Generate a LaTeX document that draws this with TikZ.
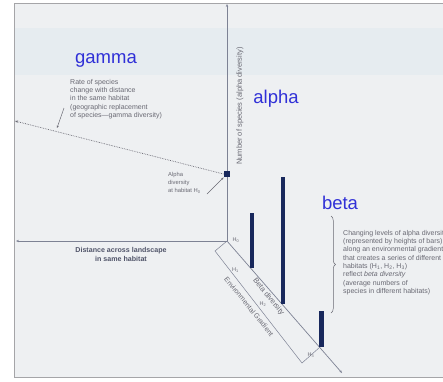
\documentclass[tikz,border=0pt]{standalone}
\usepackage{fontspec}
\setmainfont{Liberation Sans}
\usetikzlibrary{arrows.meta,decorations.pathreplacing}
\definecolor{greek}{RGB}{48,48,215}
\definecolor{axisc}{RGB}{125,130,148}
\definecolor{barc}{RGB}{24,40,92}
\definecolor{txtc}{RGB}{105,105,115}
\definecolor{darktxt}{RGB}{80,84,105}
\definecolor{bgc}{RGB}{238,240,242}
\definecolor{bandc}{RGB}{230,236,240}
\definecolor{framec}{RGB}{165,165,168}
\begin{document}
\begin{tikzpicture}[x=1pt,y=-1pt,
  greeklabel/.style={text=greek,font=\fontsize{18.5}{20}\selectfont,inner sep=0},
  note/.style={text=txtc,font=\fontsize{7}{8.35}\selectfont,align=left,inner sep=0},
  smallnote/.style={text=txtc,font=\fontsize{5.8}{8}\selectfont,align=left,inner sep=0},
  hlab/.style={text=txtc,font=\fontsize{5.5}{6}\selectfont,inner sep=0},
  axisline/.style={draw=axisc,line width=0.7pt},
  tipend/.style={-{Stealth[length=3pt,width=2.4pt]}},
  barshape/.style={fill=barc,draw=none},
  sqshape/.style={fill=barc,draw=none,minimum size=6.5pt,inner sep=0}]
\useasboundingbox (0,0) rectangle (443,381);
% background
\fill[white] (0,0) rectangle (443,381);
\fill[bgc] (14,3) rectangle (450,377);
\fill[bandc] (14,28) rectangle (450,75);
\draw[framec,line width=0.8pt] (450,3) -- (14,3) -- (14,377) -- (450,377);
% coordinates
\coordinate (O) at (227,241);
\coordinate (vtop) at (227,4);
\coordinate (hleft) at (16,241);
\coordinate (dend) at (342,373);
\coordinate (gend) at (15,121);
\coordinate (b1) at (215,251);
\coordinate (b2) at (302,363);
\coordinate (b3) at (320,347);
% axes
\draw[axisline,tipend] (O) -- (vtop);
\draw[axisline,tipend] (O) -- (hleft);
\draw[axisline,tipend] (O) -- (dend);
\draw[axisline,line width=0.5pt] (O) -- (b1) -- (b2) -- (b3);
% alpha square and gamma line
\node[sqshape] (sq) at (227,174) {};
\draw[txtc,densely dotted,line width=0.7pt,tipend] (sq.west) -- (gend);
% bars
\fill[barshape] (249.5,213) rectangle (254,268);
\fill[barshape] (280.5,177) rectangle (285,304);
\fill[barshape] (319,311) rectangle (323.5,347);
% greek labels
\node[greeklabel] (gamma) at (106,60) {gamma};
\node[greeklabel] (alpha) at (276,99) {alpha};
\node[greeklabel] (beta) at (340,203) {beta};
% notes
\node[note,anchor=north west] (rate) at (70,78.8) {Rate of species\\change with distance\\in the same habitat\\(geographic replacement\\of species---gamma diversity)};
\coordinate (ratept) at (57,128);
\draw[txtc,line width=0.5pt,-{Stealth[length=2.5pt,width=2pt]}] (64,108) -- (ratept);
\node[smallnote,anchor=north west] (alphanote) at (168,172.5) {Alpha\\diversity\\at habitat H\textsubscript{0}};
\draw[txtc,line width=0.5pt,-{Stealth[length=2.5pt,width=2pt]}] (207,194) -- (sq.south west);
\node[text=txtc,font=\fontsize{7.5}{8}\selectfont,inner sep=0,rotate=90] (ylab) at (240,106) {Number of species (alpha diversity)};
\node[text=darktxt,font=\bfseries\fontsize{7.1}{9}\selectfont,align=center,inner sep=0,anchor=north] (xlab) at (121,247.3) {Distance across landscape\\in same habitat};
\node[note,anchor=north west] (betanote) at (343,229.8) {Changing levels of alpha diversity\\(represented by heights of bars)\\along an environmental gradient\\that creates a series of different\\habitats (H\textsubscript{1}, H\textsubscript{2}, H\textsubscript{3})\\reflect \textit{beta diversity}\\(average numbers of\\species in different habitats)};
\draw[txtc,line width=0.5pt,decorate,decoration={brace,amplitude=4.5pt}] (331,216) -- (331,313);
% diagonal labels
\node[text=txtc,font=\fontsize{7.5}{8}\selectfont,inner sep=0,rotate=-51] (betadiv) at (268.5,297) {Beta diversity};
\node[text=txtc,font=\fontsize{7}{8}\selectfont,inner sep=0,rotate=-51] (envgrad) at (249,306.5) {Environmental Gradient};
% habitat labels
\node[hlab] (h0) at (236,240) {H\textsubscript{0}};
\node[hlab] (h1) at (235.5,270) {H\textsubscript{1}};
\node[hlab] (h2) at (263,304) {H\textsubscript{2}};
\node[hlab] (h3) at (311,355) {H\textsubscript{3}};
\end{tikzpicture}
\end{document}
